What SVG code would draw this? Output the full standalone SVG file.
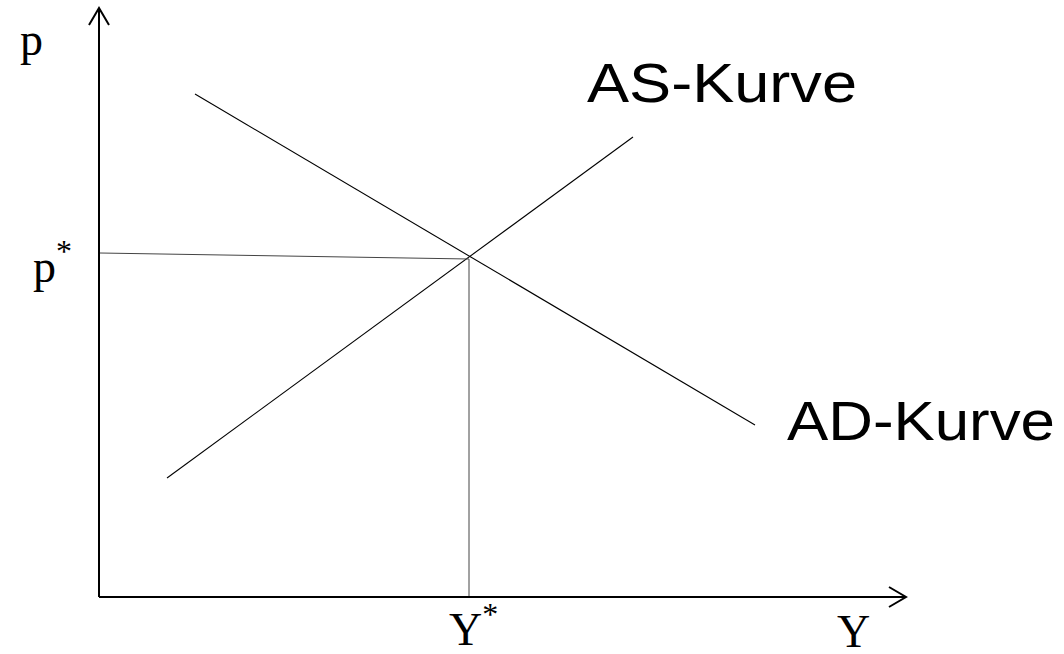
<svg xmlns="http://www.w3.org/2000/svg" width="1064" height="654" viewBox="0 0 1064 654">
<style>
.axis{stroke:#000;stroke-width:2;fill:none}
.curve{stroke:#000;stroke-width:1.1;fill:none}
.guide{stroke:#444;stroke-width:1;fill:none}
.tm{font-family:"Liberation Serif","Times New Roman",serif;font-size:46px;fill:#000}
.sup{font-size:32px}
.ar{font-family:"Liberation Sans",Arial,sans-serif;font-size:56px;fill:#000}
</style>
<rect width="1064" height="654" fill="#fff"/>
<g id="axes">
<path class="axis" d="M99,597 V8 M89,25 L99,8 L109,25"/>
<path class="axis" d="M99,597 H906 M889,587 L906,597 L889,607"/>
</g>
<g id="connectors">
<line id="ad-line" class="curve" x1="195" y1="94" x2="755" y2="425"/>
<line id="as-line" class="curve" x1="167" y1="478" x2="633" y2="137"/>
<line id="p-guide" class="guide" x1="100" y1="253" x2="469" y2="259"/>
<line id="y-guide" class="guide" x1="469" y1="259" x2="469" y2="596"/>
</g>
<g id="label-p"><text class="tm" x="20" y="55">p</text></g>
<g id="label-pstar"><text class="tm" x="33" y="282">p<tspan class="sup" dy="-20">*</tspan></text></g>
<g id="label-ystar"><text class="tm" x="449" y="645">Y<tspan class="sup" dy="-20">*</tspan></text></g>
<g id="label-y"><text class="tm" x="837" y="647">Y</text></g>
<g id="label-as"><text class="ar" x="587" y="102" textLength="270" lengthAdjust="spacingAndGlyphs">AS-Kurve</text></g>
<g id="label-ad"><text class="ar" x="787" y="440" textLength="268" lengthAdjust="spacingAndGlyphs">AD-Kurve</text></g>
</svg>
